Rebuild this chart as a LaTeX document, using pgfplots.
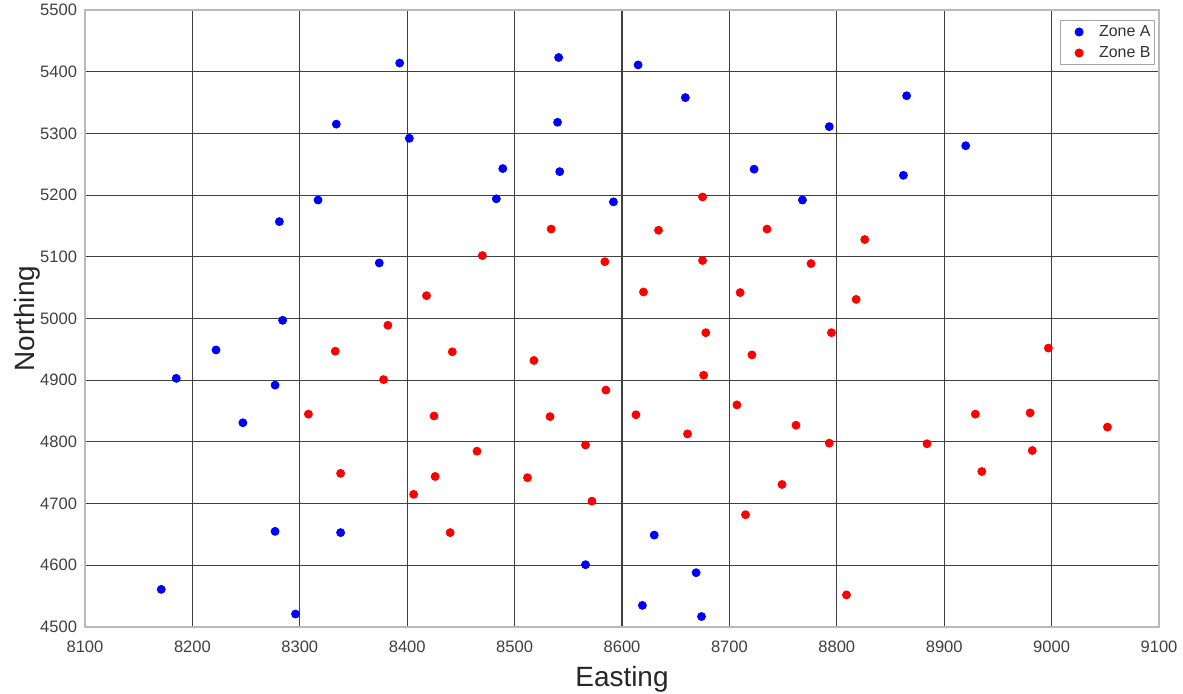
\documentclass[border=0pt]{standalone}
\usepackage{fontspec}
\setmainfont{Liberation Sans}
\usepackage{pgfplots}
\pgfplotsset{compat=1.18}
\definecolor{tickgray}{RGB}{64,64,64}
\begin{document}
\begin{tikzpicture}
\begin{axis}[
  scale only axis,
  width=537bp, height=308.5bp,
  xmin=8100, xmax=9100, ymin=4500, ymax=5500,
  xtick={8100,8200,...,9100}, ytick={4500,4600,...,5500},
  /pgf/number format/assume math mode=true,
  /pgf/number format/set thousands separator={},
  tick label style={font=\fontsize{8.3}{10}\selectfont, text=tickgray},
  major tick length=0pt,
  xticklabel style={yshift=-3.5bp},
  yticklabel style={xshift=-0.5bp},
  grid=major,
  major grid style={black!75, line width=0.55bp},
  axis line style={gray!55, line width=0.7bp},
  xlabel={Easting}, ylabel={Northing},
  label style={font=\fontsize{14}{16}\selectfont, text=black!85},
  xlabel style={at={(axis description cs:0.5,0)}, anchor=center, yshift=-26bp},
  ylabel style={at={(axis description cs:0,0.5)}, anchor=center, yshift=29bp},
  legend style={at={(rel axis cs:1,1)}, anchor=north east, xshift=-2bp, yshift=-5bp,
    font=\fontsize{8}{9}\selectfont, draw=gray!70, line width=0.5bp,
    inner xsep=0.5bp, inner ysep=0.5bp, row sep=0bp, text=black!80,
    nodes={inner sep=1.5bp, text height=6bp, text depth=1.5bp}},
  legend cell align=left,
  legend image code/.code={\path[draw=none,fill=none] (0bp,0bp) -- (17.5bp,0bp); \path[#1,draw=none] plot[only marks] coordinates {(9bp,0bp)};},
]
\addplot[only marks, mark=*, mark size=2bp, color=blue, mark options={draw=blue, fill=blue}] coordinates {
(8393,5414) (8541,5423) (8615,5411) (8659,5358) (8540,5318) (8402,5292)
(8489,5243) (8542,5238) (8723,5242) (8483,5194) (8592,5189) (8334,5315)
(8317,5192) (8281,5157) (8374,5090) (8284,4997) (8222,4949) (8185,4903)
(8277,4892) (8247,4831) (8277,4655) (8338,4653) (8171,4561) (8296,4521)
(8630,4649) (8566,4601) (8669,4588) (8619,4535) (8674,4517) (8865,5361)
(8793,5311) (8920,5280) (8862,5232) (8768,5192)
};
\addlegendentry{Zone A}
\addplot[only marks, mark=*, mark size=2bp, color=red, mark options={draw=red, fill=red}] coordinates {
(8675,5197) (8534,5145) (8634,5143) (8735,5145) (8470,5102) (8584,5092)
(8675,5094) (8418,5037) (8620,5043) (8710,5042) (8826,5128) (8776,5089)
(8818,5031) (8382,4989) (8333,4947) (8378,4901) (8308,4845) (8338,4749)
(8442,4946) (8518,4932) (8678,4977) (8721,4941) (8676,4908) (8585,4884)
(8425,4842) (8533,4841) (8613,4844) (8707,4860) (8661,4813) (8566,4795)
(8465,4785) (8426,4744) (8512,4742) (8406,4715) (8572,4704) (8715,4682)
(8440,4653) (8795,4977) (8997,4952) (8929,4845) (8980,4847) (9052,4824)
(8762,4827) (8793,4798) (8884,4797) (8982,4786) (8935,4752) (8749,4731)
(8809,4552)
};
\addlegendentry{Zone B}
\end{axis}
\pgfresetboundingbox
\path[use as bounding box] (-42.5bp,-33.5bp) rectangle (549bp,313.5bp);
\end{tikzpicture}
\end{document}
